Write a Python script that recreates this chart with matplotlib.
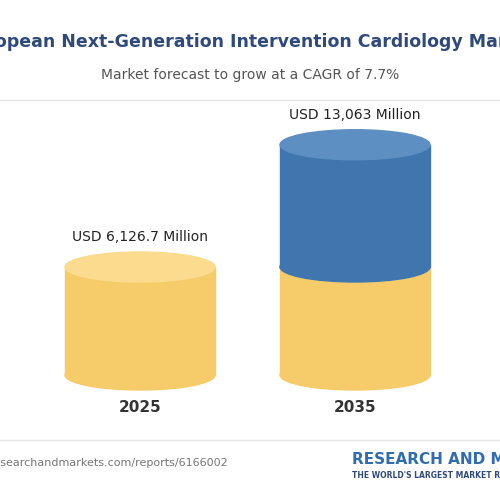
import matplotlib.pyplot as plt
from matplotlib.patches import Rectangle, Ellipse

years = ['2025', '2035']
values = [6126.7, 13063]
labels = ['USD 6,126.7 Million', 'USD 13,063 Million']

fig = plt.figure(figsize=(5, 5), dpi=100)
ax = fig.add_axes([0, 0, 1, 1])
ax.set_xlim(0, 500)
ax.set_ylim(500, 0)
ax.axis('off')

ax.text(250, 42, 'European Next-Generation Intervention Cardiology Market', ha='center', va='center',
        fontsize=12.5, fontweight='bold', color='#2f4a7a')
ax.text(250, 75, 'Market forecast to grow at a CAGR of 7.7%', ha='center', va='center',
        fontsize=10, color='#555555')
ax.plot([0, 500], [100, 100], color='#e6e6e6', lw=1)

base = 375
scale = 108 / values[0]
centers = [140, 355]
w = 150
eh = 30
yellow, yellow_top = '#f6cb6a', '#fbdc8f'
blue, blue_top = '#3f76ad', '#5e8fc2'

def cyl(cx, y0, y1, body, top, z):
    ax.add_patch(Ellipse((cx, y0), w, eh, color=body, zorder=z))
    ax.add_patch(Rectangle((cx - w / 2, y1), w, y0 - y1, color=body, zorder=z))
    ax.add_patch(Ellipse((cx, y1), w, eh, color=top, zorder=z + 0.5))

h0 = values[0] * scale
cyl(centers[0], base, base - h0, yellow, yellow_top, 1)
cyl(centers[1], base, base - h0, yellow, yellow_top, 1)
h1 = values[1] * scale
cyl(centers[1], base - h0, base - h1, blue, blue_top, 2)

for cx, v, lab, yr in zip(centers, values, labels, years):
    ax.text(cx, base - v * scale - 30, lab, ha='center', va='center', fontsize=10, color='#222222')
    ax.text(cx, 408, yr, ha='center', va='center', fontsize=11, fontweight='bold', color='#333333')

ax.plot([0, 500], [440, 440], color='#e6e6e6', lw=1)
ax.text(-40, 463, 'www.researchandmarkets.com/reports/6166002', ha='left', va='center',
        fontsize=8, color='#777777')
ax.text(352, 460, 'RESEARCH AND MARKETS', ha='left', va='center', fontsize=11,
        fontweight='bold', color='#2f6db0')
ax.text(352, 476, "THE WORLD'S LARGEST MARKET RESEARCH STORE", ha='left', va='center',
        fontsize=5.5, fontweight='bold', color='#2f4a7a')

fig.savefig('out.png', dpi=100)
